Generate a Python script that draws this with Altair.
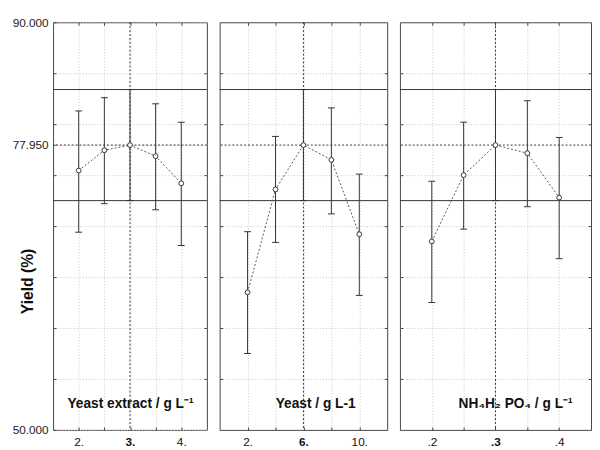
import altair as alt
import pandas as pd

# ---------------- data ----------------
y_title = "Yield (%)"
y_domain = [50, 90]
y_grid_values = [50, 55, 60, 65, 70, 75, 77.95, 80, 85, 90]
y_inner_ticks = [55, 60, 65, 70, 75, 80, 85]
y_label_values = [50, 77.95, 90]

predicted = 77.95
ci_bounds = [72.5, 83.4]

# panel 1
p1_title = "Yeast extract / g L⁻¹"
p1_x = [2, 2.5, 3, 3.5, 4]
p1_mean = [75.45, 77.44, 77.95, 76.86, 74.2]
p1_low = [69.4, 72.2, 72.5, 71.6, 68.1]
p1_high = [81.3, 82.6, 83.4, 82.0, 80.2]
p1_domain = [1.5, 4.5]
p1_ticks = [2, 2.5, 3, 3.5, 4]
p1_tick_labels = ["2.", "", "3.", "", "4."]
p1_current = 3

# panel 2
p2_title = "Yeast / g L-1"
p2_x = [2, 4, 6, 8, 10]
p2_mean = [63.5, 73.6, 77.95, 76.5, 69.2]
p2_low = [57.5, 68.4, 72.5, 71.2, 63.2]
p2_high = [69.45, 78.8, 83.4, 81.6, 75.1]
p2_domain = [0, 12]
p2_ticks = [2, 4, 6, 8, 10]
p2_tick_labels = ["2.", "", "6.", "", "10."]
p2_current = 6

# panel 3
p3_title = "NH₄H₂ PO₄ / g L⁻¹"
p3_x = [0.2, 0.25, 0.3, 0.35, 0.4]
p3_mean = [68.5, 75.0, 77.95, 77.15, 72.8]
p3_low = [62.5, 69.7, 72.5, 71.9, 66.8]
p3_high = [74.4, 80.2, 83.4, 82.3, 78.7]
p3_domain = [0.15, 0.45]
p3_ticks = [0.2, 0.25, 0.3, 0.35, 0.4]
p3_tick_labels = [".2", "", ".3", "", ".4"]
p3_current = 0.3

# ---------------- style ----------------
INK = "#333333"
TICK = "#444444"
GRID = "#c8c8c8"
FONT = "Liberation Sans"
PANEL_H = 416


def label_expr(vals, labels):
    expr = "''"
    for v, l in reversed(list(zip(vals, labels))):
        expr = f"datum.value == {v} ? '{l}' : ({expr})"
    return expr


def panel(title, xs, means, lows, highs, domain, ticks, tick_labels, current,
          width, label_dx, first):
    df = pd.DataFrame({"x": xs, "mean": means, "low": lows, "high": highs})
    xsc = alt.Scale(domain=domain, nice=False, zero=False)
    ysc = alt.Scale(domain=y_domain, nice=False, zero=False)
    x_axis = alt.Axis(
        values=ticks, labelExpr=label_expr(ticks, tick_labels),
        grid=True, gridColor=GRID, gridDash=[1, 2], gridWidth=1,
        ticks=True, tickSize=3, tickColor=TICK, offset=-3,
        domain=False, labelFontSize=12, labelColor="#111",
        labelPadding=7, labelFlush=False, title=None,
        labelFontWeight={"condition": {"test": f"datum.value == {current}",
                                        "value": "bold"}, "value": "normal"},
    )
    if first:
        shown = " || ".join(f"datum.value == {v}" for v in y_label_values)
        y_axis = alt.Axis(
            values=y_grid_values,
            labelExpr=f"({shown}) ? format(datum.value, '.3f') : ''",
            grid=True, gridColor=GRID, gridDash=[1, 2], gridWidth=1,
            ticks=True, tickSize=3, tickColor=TICK, offset=-3,
            domain=False, labelFontSize=12, labelColor="#222",
            labelPadding=5, labelFlush=False,
            title=y_title, titleFontSize=16, titleFontWeight="bold",
            titleColor="#111", titleX=-21, titleY=264,
        )
    else:
        y_axis = alt.Axis(
            values=y_inner_ticks, labels=False, grid=True, gridColor=GRID,
            gridDash=[1, 2], gridWidth=1, ticks=True, tickSize=3,
            tickColor=TICK, offset=-3, domain=False, title=None,
        )

    X = alt.X("x:Q", scale=xsc, axis=x_axis)

    def Y(field):
        return alt.Y(field, scale=ysc, axis=y_axis)

    base = alt.Chart(df)
    hl = alt.Chart(pd.DataFrame({"y": ci_bounds})).mark_rule(
        color=INK, strokeWidth=1).encode(y=Y("y:Q"))
    pl = alt.Chart(pd.DataFrame({"y": [predicted]})).mark_rule(
        color=INK, strokeWidth=1, strokeDash=[2, 2]).encode(y=Y("y:Q"))
    vl = alt.Chart(pd.DataFrame({"x": [current]})).mark_rule(
        color=INK, strokeWidth=1, strokeDash=[2, 2]).encode(x=X)
    bars = base.mark_rule(color=INK, strokeWidth=1).encode(
        x=X, y=Y("low:Q"), y2="high:Q")
    cap_lo = base.mark_tick(orient="horizontal", size=7, thickness=1,
                            color=INK, opacity=1).encode(x=X, y=Y("low:Q"))
    cap_hi = base.mark_tick(orient="horizontal", size=7, thickness=1,
                            color=INK, opacity=1).encode(x=X, y=Y("high:Q"))
    line = base.mark_line(color="#555555", strokeWidth=1,
                          strokeDash=[2, 2]).encode(x=X, y=Y("mean:Q"))
    pts = base.mark_point(shape="circle", size=24, filled=True, fill="white",
                          stroke=INK, strokeWidth=1, opacity=1).encode(
        x=X, y=Y("mean:Q"))
    txt = alt.Chart(pd.DataFrame({"t": [title]})).mark_text(
        fontSize=14, fontWeight="bold", color="#111", font=FONT).encode(
        text="t:N", x=alt.value(label_dx), y=alt.value(390))
    main = alt.layer(hl, pl, vl, bars, cap_lo, cap_hi, line, pts, txt)

    # inner ticks on the top and right edges of the frame
    frame = base.mark_point(opacity=0).encode(
        x=alt.X("x:Q", scale=xsc, axis=alt.Axis(
            orient="top", values=ticks, labels=False, grid=False,
            domain=False, ticks=True, tickSize=3, tickColor=TICK,
            offset=-3, title=None)),
        y=alt.Y("mean:Q", scale=ysc, axis=alt.Axis(
            orient="right", values=y_inner_ticks, labels=False, grid=False,
            domain=False, ticks=True, tickSize=3, tickColor=TICK,
            offset=-3, title=None)),
    )
    return alt.layer(main, frame).resolve_axis(
        x="independent", y="independent").properties(width=width, height=PANEL_H)


c1 = panel(p1_title, p1_x, p1_mean, p1_low, p1_high, p1_domain, p1_ticks,
           p1_tick_labels, p1_current, 157, 79, True)
c2 = panel(p2_title, p2_x, p2_mean, p2_low, p2_high, p2_domain, p2_ticks,
           p2_tick_labels, p2_current, 171, 98, False)
c3 = panel(p3_title, p3_x, p3_mean, p3_low, p3_high, p3_domain, p3_ticks,
           p3_tick_labels, p3_current, 195, 118, False)

chart = alt.hconcat(c1, c2, c3, spacing=11).properties(
    padding={"left": 3, "top": 3, "right": 0, "bottom": 0}
).configure(font=FONT).configure_view(stroke="#444444", strokeWidth=1)

chart.save("out.html", embed_options={"renderer": "svg", "actions": False})
